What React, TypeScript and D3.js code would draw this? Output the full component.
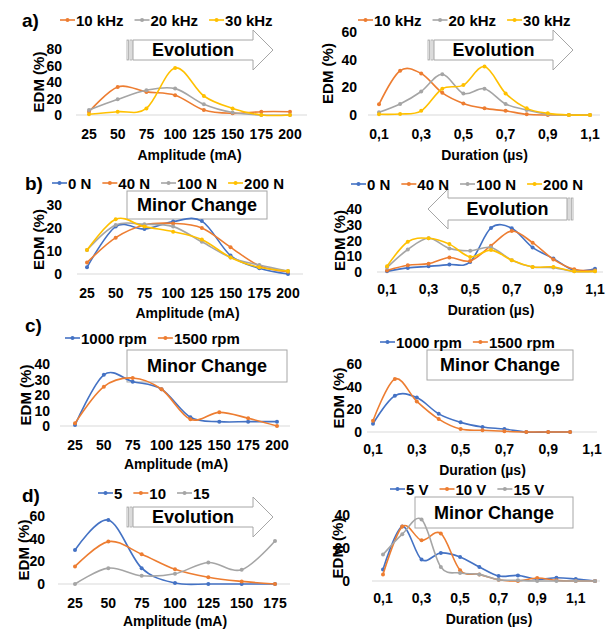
import React, { useRef, useEffect } from 'react';
import * as d3 from 'd3';

const BLUE = '#4472C4';
const ORANGE = '#ED7D31';
const GRAY = '#A5A5A5';
const YELLOW = '#FFC000';
const FONT = "'Liberation Sans', Arial, sans-serif";
const FS = 14; // tick labels and axis titles
const FS_LEG = 15; // legend and EDM label
const FS_BIG = 18; // callouts

// categories
const amplitude = ['25', '50', '75', '100', '125', '150', '175', '200'];
const amplitudeD = ['25', '50', '75', '100', '125', '150', '175'];
const duration = ['0,1', '0,2', '0,3', '0,4', '0,5', '0,6', '0,7', '0,8', '0,9', '1', '1,1'];
const durationD = ['0,1', '0,2', '0,3', '0,4', '0,5', '0,6', '0,7', '0,8', '0,9', '1', '1,1', '1,2'];

// a) frequency
const freqNames = ['10 kHz', '20 kHz', '30 kHz'];
const aAmp10 = [4, 34, 28, 24, 6, 2, 4, 4];
const aAmp20 = [6, 19, 30, 32, 13, 3, 0, 0];
const aAmp30 = [1, 4, 8, 57, 23, 8, 0, 0];
const aDur10 = [7.7, 32, 30, 16, 8.4, 4.8, 3, 0.5, 0, 0, 0];
const aDur20 = [2, 8, 17, 29.5, 15.6, 19, 8, 3.6, 0.5, 0, 0];
const aDur30 = [0.5, 0.7, 3, 19, 21.6, 35, 15.6, 4.8, 1.2, 0, 0];

// b) force
const forceNames = ['0 N', '40 N', '100 N', '200 N'];
const bAmp0 = [2.9, 20.6, 19.6, 22.8, 23, 8, 2.5, 0];
const bAmp40 = [5, 15.8, 21.3, 22, 20, 11.6, 3.6, 1];
const bAmp100 = [10.4, 21.3, 21.6, 20.6, 14, 7.2, 3.9, 1.3];
const bAmp200 = [10.4, 23.8, 20.6, 18.4, 15, 7.2, 2.9, 1.3];
const bDur0 = [0.4, 2.6, 3.6, 4.7, 6.4, 28, 27.8, 15.6, 8.5, 1, 2];
const bDur40 = [1, 4.3, 5.3, 9.2, 7, 16.7, 26, 18.6, 8, 1.7, 1];
const bDur100 = [2.8, 14.3, 21.4, 15, 13.5, 15.6, 7.5, 3.2, 2.8, 0.4, 0.4];
const bDur200 = [3.6, 19.2, 21.4, 17.7, 9.6, 13.9, 7.5, 3.2, 3.2, 0.4, 0.4];

// c) speed
const speedNames = ['1000 rpm', '1500 rpm'];
const cAmp1000 = [0.6, 33, 28.6, 23.7, 5.6, 2.8, 2.8, 2.8];
const cAmp1500 = [1.7, 25.4, 31, 23.7, 4.3, 8.8, 5, 0];
const cDur1000 = [7.3, 32, 30.4, 16, 8.5, 4.4, 2.6, 0, 0, 0, null];
const cDur1500 = [10, 46.8, 27, 11.4, 2.6, 1.5, 0.6, 0, 0, 0, null];

// d) voltage
const voltNamesL = ['5', '10', '15'];
const voltNamesR = ['5 V', '10 V', '15 V'];
const dAmp5 = [30, 56.4, 14, 0.9, 0, 0, 0];
const dAmp10 = [15.5, 37.4, 26.3, 13, 6, 2.3, 0];
const dAmp15 = [0, 14, 7.3, 9, 19, 12.6, 38];
const dDur5 = [7, 33, 13, 17, 14.6, 8.5, 3, 3.4, 1, 2, 1.2, 0];
const dDur10 = [3.9, 33, 24.7, 28.8, 6.5, 4, 0.8, 0, 1.8, 0.4, 0, 0];
const dDur15 = [16, 28.4, 37.3, 8.5, 4.9, 4, 0.8, 0.4, 0, 0, 0, 0];

const mk = (names, colors, values) => names.map((n, i) => ({ name: n, color: colors[i], values: values[i] }));

const panels = [
  {
    cats: amplitude, every: 1, title: 'Amplitude (mA)', yMax: 80, yStep: 20,
    x0: 89, x1: 290, axL: 76, axR: 307, yZero: 115, yTop: 49, tickR: 62, edmX: 38, tickY: 134, titleY: 155,
    series: mk(freqNames, [ORANGE, GRAY, YELLOW], [aAmp10, aAmp20, aAmp30]),
    legendX: 60, legendY: 20, tag: 'a)', tagX: 22, tagY: 20,
    note: { kind: 'right', x: 127, tip: 273, head: 253, yc: 50, bh: 10, hh: 20, text: 'Evolution' }
  },
  {
    cats: duration, every: 2, title: 'Duration (µs)', yMax: 60, yStep: 20,
    x0: 379, x1: 590, axL: 368, axR: 600, yZero: 115, yTop: 32, tickR: 357, edmX: 327, tickY: 134, titleY: 155,
    series: mk(freqNames, [ORANGE, GRAY, YELLOW], [aDur10, aDur20, aDur30]),
    legendX: 358, legendY: 20,
    note: { kind: 'right', x: 428, tip: 573, head: 553, yc: 50, bh: 10, hh: 20, text: 'Evolution' }
  },
  {
    cats: amplitude, every: 1, title: 'Amplitude (mA)', yMax: 30, yStep: 10,
    x0: 87, x1: 288, axL: 77, axR: 303, yZero: 274, yTop: 205, tickR: 62, edmX: 38, tickY: 293, titleY: 313,
    series: mk(forceNames, [BLUE, ORANGE, GRAY, YELLOW], [bAmp0, bAmp40, bAmp100, bAmp200]),
    legendX: 52, legendY: 183, tag: 'b)', tagX: 25, tagY: 183,
    note: { kind: 'box', x: 127, y: 191, w: 140, h: 28, text: 'Minor Change' }
  },
  {
    cats: duration, every: 2, title: 'Duration (µs)', yMax: 40, yStep: 10,
    x0: 387, x1: 595, axL: 377, axR: 603, yZero: 272, yTop: 209, tickR: 362, edmX: 339, tickY: 289, titleY: 310,
    series: mk(forceNames, [BLUE, ORANGE, GRAY, YELLOW], [bDur0, bDur40, bDur100, bDur200]),
    legendX: 351, legendY: 184,
    note: { kind: 'left', x: 573, tip: 428, head: 448, yc: 209, bh: 11, hh: 20, text: 'Evolution' }
  },
  {
    cats: amplitude, every: 1, title: 'Amplitude (mA)', yMax: 40, yStep: 10,
    x0: 75, x1: 277, axL: 60, axR: 290, yZero: 426, yTop: 364, tickR: 50, edmX: 25, tickY: 445, titleY: 464,
    series: mk(speedNames, [BLUE, ORANGE], [cAmp1000, cAmp1500]),
    legendX: 65, legendY: 338, tag: 'c)', tagX: 25, tagY: 325,
    note: { kind: 'box', x: 127, y: 350, w: 160, h: 32, text: 'Minor Change' }
  },
  {
    cats: duration, every: 2, title: 'Duration (µs)', yMax: 60, yStep: 20,
    x0: 373, x1: 592, axL: 367, axR: 597, yZero: 432, yTop: 364, tickR: 362, edmX: 338, tickY: 449, titleY: 470,
    series: mk(speedNames, [BLUE, ORANGE], [cDur1000, cDur1500]),
    legendX: 380, legendY: 342,
    note: { kind: 'box', x: 427, y: 350, w: 146, h: 30, text: 'Minor Change' }
  },
  {
    cats: amplitudeD, every: 1, title: 'Amplitude (mA)', yMax: 60, yStep: 20,
    x0: 75, x1: 275, axL: 58, axR: 290, yZero: 584, yTop: 516, tickR: 45, edmX: 23, tickY: 603, titleY: 621,
    series: mk(voltNamesL, [BLUE, ORANGE, GRAY], [dAmp5, dAmp10, dAmp15]),
    legendX: 98, legendY: 493, tag: 'd)', tagX: 22, tagY: 495,
    note: { kind: 'right', x: 127, tip: 273, head: 253, yc: 517, bh: 10, hh: 20, text: 'Evolution' }
  },
  {
    cats: durationD, every: 2, title: 'Duration (µs)', yMax: 40, yStep: 20,
    x0: 383, x1: 595, axL: 372, axR: 600, yZero: 581, yTop: 515, tickR: 350, edmX: 337, tickY: 598, titleY: 619,
    series: mk(voltNamesR, [BLUE, ORANGE, GRAY], [dDur5, dDur10, dDur15]),
    legendX: 390, legendY: 489,
    note: { kind: 'box', x: 415, y: 497, w: 158, h: 31, text: 'Minor Change' }
  }
];

function drawNote(g, n) {
  const stroke = '#A6A6A6';
  if (n.kind === 'box') {
    g.append('rect').attr('x', n.x).attr('y', n.y).attr('width', n.w).attr('height', n.h)
      .attr('fill', '#fff').attr('stroke', stroke).attr('stroke-width', 1);
    g.append('text').attr('x', n.x + n.w / 2).attr('y', n.y + n.h / 2)
      .attr('text-anchor', 'middle').attr('dominant-baseline', 'central')
      .attr('font-size', FS_BIG).attr('font-weight', 'bold').text(n.text);
    return;
  }
  const dir = n.kind === 'right' ? 1 : -1;
  const bodyStart = n.x + dir * 6;
  const path = d3.path();
  path.moveTo(bodyStart, n.yc - n.bh);
  path.lineTo(n.head, n.yc - n.bh);
  path.lineTo(n.head, n.yc - n.hh);
  path.lineTo(n.tip, n.yc);
  path.lineTo(n.head, n.yc + n.hh);
  path.lineTo(n.head, n.yc + n.bh);
  path.lineTo(bodyStart, n.yc + n.bh);
  path.closePath();
  g.append('path').attr('d', path.toString()).attr('fill', '#fff').attr('stroke', stroke).attr('stroke-width', 1);
  // tail stripes
  [[0, 1.5], [3, 2]].forEach(([off, w]) => {
    const sx = dir === 1 ? n.x + off : n.x - off - w;
    g.append('rect').attr('x', sx).attr('y', n.yc - n.bh).attr('width', w).attr('height', n.bh * 2)
      .attr('fill', '#fff').attr('stroke', stroke).attr('stroke-width', 0.8);
  });
  g.append('text').attr('x', (bodyStart + n.head) / 2).attr('y', n.yc)
    .attr('text-anchor', 'middle').attr('dominant-baseline', 'central')
    .attr('font-size', FS_BIG).attr('font-weight', 'bold').text(n.text);
}

function drawPanel(svg, p) {
  const g = svg.append('g');
  const x = d3.scalePoint().domain(p.cats).range([p.x0, p.x1]);
  const y = d3.scaleLinear().domain([0, p.yMax]).range([p.yZero, p.yTop]);

  // axis line
  g.append('line').attr('x1', p.axL).attr('x2', p.axR).attr('y1', p.yZero).attr('y2', p.yZero)
    .attr('stroke', '#D9D9D9').attr('stroke-width', 1);

  // y tick labels
  g.selectAll('.yt').data(d3.range(0, p.yMax + 0.001, p.yStep)).enter().append('text')
    .attr('x', p.tickR).attr('y', d => y(d)).attr('text-anchor', 'end').attr('dominant-baseline', 'central')
    .attr('font-size', FS).attr('font-weight', 'bold').text(d => d);

  // x tick labels
  g.selectAll('.xt').data(p.cats.filter((c, i) => i % p.every === 0)).enter().append('text')
    .attr('x', d => x(d)).attr('y', p.tickY).attr('text-anchor', 'middle').attr('dominant-baseline', 'central')
    .attr('font-size', FS).attr('font-weight', 'bold').text(d => d);

  // axis titles
  g.append('text').attr('x', (p.x0 + p.x1) / 2).attr('y', p.titleY).attr('text-anchor', 'middle')
    .attr('dominant-baseline', 'central').attr('font-size', FS).attr('font-weight', 'bold').text(p.title);
  g.append('text').attr('transform', `translate(${p.edmX},${(p.yZero + p.yTop) / 2}) rotate(-90)`)
    .attr('text-anchor', 'middle').attr('dominant-baseline', 'central')
    .attr('font-size', FS_LEG).attr('font-weight', 'bold').text('EDM (%)');

  drawNote(g, p.note);

  const line = d3.line()
    .defined(d => d.v != null)
    .x(d => x(d.c))
    .y(d => y(d.v))
    .curve(d3.curveCardinal.tension(0));

  p.series.forEach(s => {
    const pts = p.cats.map((c, i) => ({ c, v: s.values[i] }));
    g.append('path').attr('d', line(pts)).attr('fill', 'none').attr('stroke', s.color).attr('stroke-width', 1.6);
    g.selectAll(null).data(pts.filter(d => d.v != null)).enter().append('circle')
      .attr('cx', d => x(d.c)).attr('cy', d => y(d.v)).attr('r', 2).attr('fill', s.color);
  });

  // legend
  let lx = p.legendX;
  p.series.forEach(s => {
    g.append('line').attr('x1', lx).attr('x2', lx + 15).attr('y1', p.legendY).attr('y2', p.legendY)
      .attr('stroke', s.color).attr('stroke-width', 1.6);
    g.append('circle').attr('cx', lx + 7.5).attr('cy', p.legendY).attr('r', 2).attr('fill', s.color);
    const t = g.append('text').attr('x', lx + 16).attr('y', p.legendY).attr('dominant-baseline', 'central')
      .attr('font-size', FS_LEG).attr('font-weight', 'bold').text(s.name);
    lx += 16 + t.node().getComputedTextLength() + 11;
  });

  if (p.tag) {
    g.append('text').attr('x', p.tagX).attr('y', p.tagY).attr('dominant-baseline', 'central')
      .attr('font-size', 19).attr('font-weight', 'bold').text(p.tag);
  }
}

const App = () => {
  const svgRef = useRef(null);

  useEffect(() => {
    const svg = d3.select(svgRef.current);
    svg.selectAll('*').remove();
    svg.style('font-family', FONT);
    svg.append('rect').attr('width', 613).attr('height', 629).attr('fill', '#fff');
    panels.forEach(p => drawPanel(svg, p));
  }, []);

  return (
    <div style={{ position: 'absolute', left: 0, top: 0 }}>
      <svg ref={svgRef} width={613} height={629} style={{ display: 'block' }} />
    </div>
  );
};

export default App;
